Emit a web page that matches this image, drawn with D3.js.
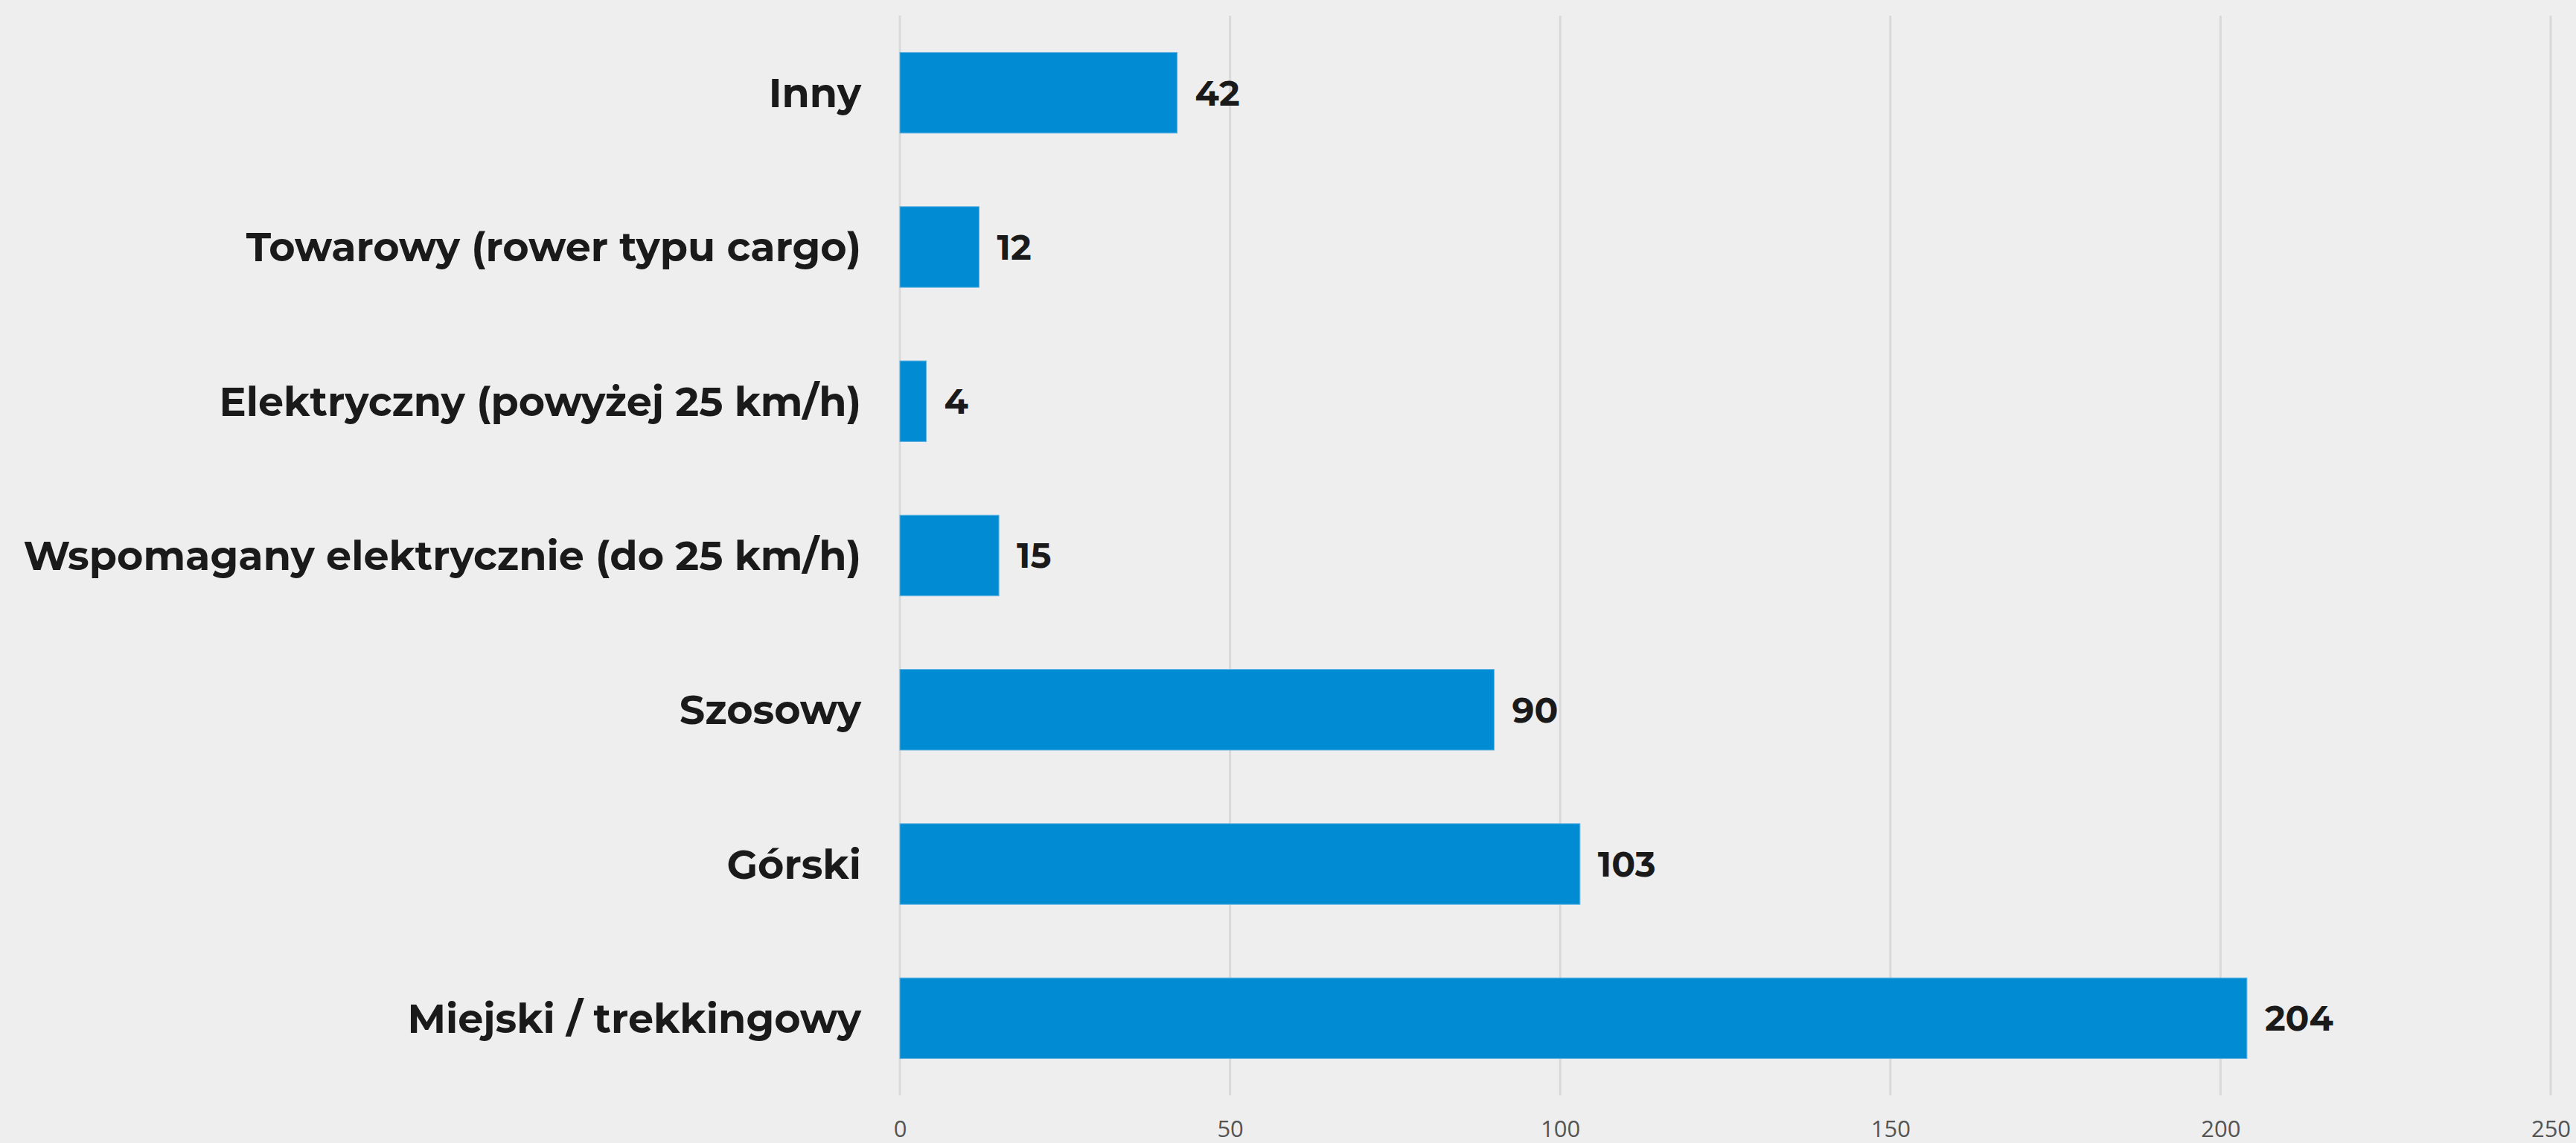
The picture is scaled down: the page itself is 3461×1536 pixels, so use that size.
<!DOCTYPE html>
<html>
<head>
<meta charset="utf-8">
<script src="https://cdn.jsdelivr.net/npm/d3@7"></script>
<style>
html,body{margin:0;padding:0;background:#eeeeee;}
svg{display:block;}
</style>
</head>
<body>
<svg id="chart" width="3461" height="1536"></svg>
<script>
const categories = ["Inny","Towarowy (rower typu cargo)","Elektryczny (powyżej 25 km/h)","Wspomagany elektrycznie (do 25 km/h)","Szosowy","Górski","Miejski / trekkingowy"];
const values = [42,12,4,15,90,103,204];
const tickValues = [0,50,100,150,200,250];

const W = 3461, H = 1536;
const margin = {left:1209, right:W-3427, top:21, bottom:H-1472};
const svg = d3.select("#chart");
svg.append("rect").attr("width",W).attr("height",H).attr("fill","#eeeeee");

const x = d3.scaleLinear().domain([0,250]).range([margin.left, W-margin.right]);
const y = d3.scaleBand().domain(categories).range([margin.top, H-margin.bottom]).paddingInner(0.477).paddingOuter(0.2385);

// gridlines
svg.append("g").selectAll("line").data(tickValues).join("line")
  .attr("x1",d=>x(d)).attr("x2",d=>x(d))
  .attr("y1",margin.top).attr("y2",H-margin.bottom)
  .attr("stroke","#d9d9d9").attr("stroke-width",3);

// x axis tick labels
const xAxis = d3.axisBottom(x).tickValues(tickValues).tickSize(0).tickPadding(0);
const gx = svg.append("g").attr("transform",`translate(0,${1506})`).call(xAxis);
gx.select(".domain").remove();
gx.selectAll("text").attr("font-family","'Open Sans','Noto Sans',sans-serif").attr("font-size",31).attr("fill","#555555").attr("dy","0.71em");

// bars
svg.append("g").selectAll("rect").data(values).join("rect")
  .attr("x",x(0)).attr("y",(d,i)=>y(categories[i]))
  .attr("width",d=>x(d)-x(0)).attr("height",y.bandwidth())
  .attr("fill","#008bd3").attr("stroke","#5fb3e3").attr("stroke-width",1);

// category labels
const yAxis = d3.axisLeft(y).tickSize(0).tickPadding(52);
const gy = svg.append("g").attr("transform",`translate(${x(0)},0)`).call(yAxis);
gy.select(".domain").remove();
gy.selectAll("text").attr("font-family","Montserrat,'DejaVu Sans',sans-serif").attr("font-weight","bold")
  .attr("font-size",54).attr("fill","#1a1a1a").attr("dy","0.36em");

// value labels
svg.append("g").selectAll("text").data(values).join("text")
  .attr("x",d=>x(d)+24).attr("y",(d,i)=>y(categories[i])+y.bandwidth()/2)
  .attr("dy","0.36em")
  .attr("font-family","Montserrat,'DejaVu Sans',sans-serif").attr("font-weight","bold")
  .attr("font-size",47).attr("fill","#1a1a1a").text(d=>d);
</script>
</body>
</html>
